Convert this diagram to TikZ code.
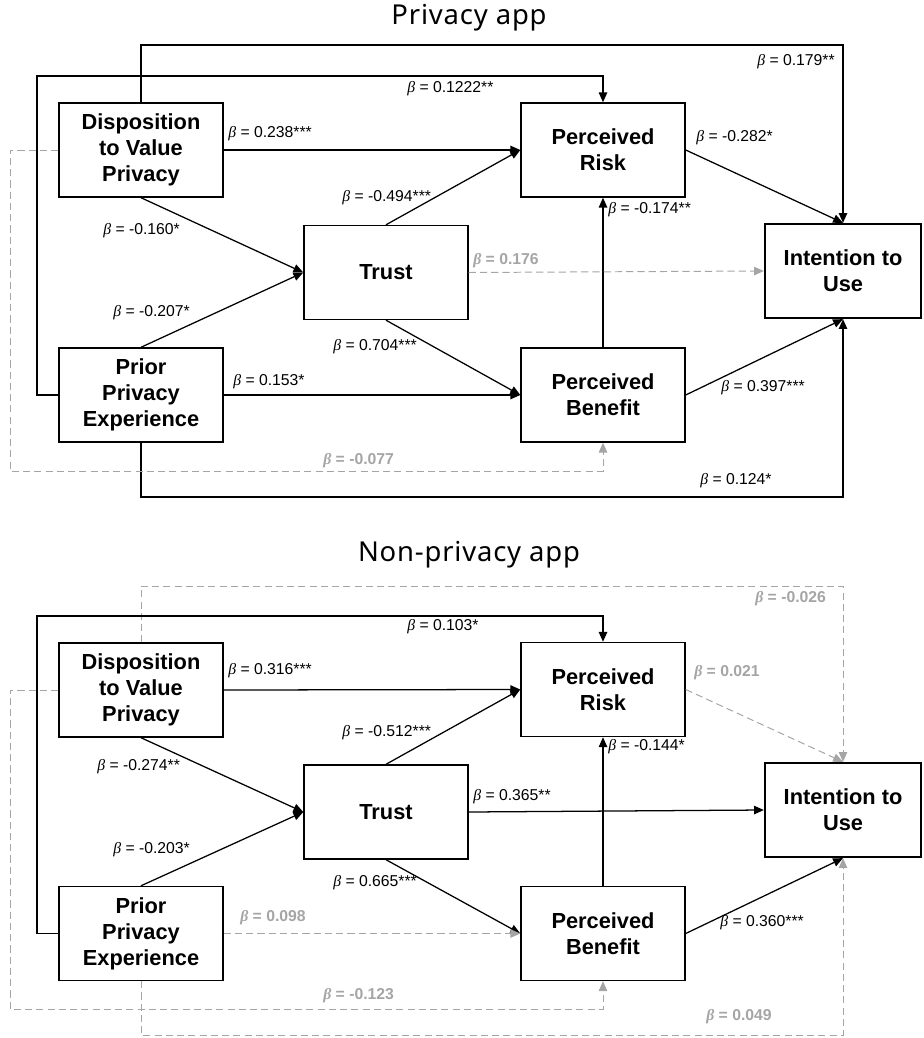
\documentclass[tikz,border=0pt]{standalone}
\usepackage{fontspec}
\setmainfont{Liberation Sans}
\newfontfamily\titlefont[LetterSpace=3]{Noto Sans}
\newfontfamily\betafont{Liberation Serif}
\usetikzlibrary{arrows.meta}
\definecolor{nsgray}{RGB}{165,165,165}
\newcommand{\bt}{{\betafont\itshape β}}

\begin{document}
\begin{tikzpicture}[x=0.025cm,y=-0.025cm]
\tikzstyle{construct} = [rectangle, draw=black, line width=1pt, minimum width=4.1cm, minimum height=2.35cm, inner sep=0pt, align=center, font=\fontsize{15.5}{18.4}\selectfont\bfseries]
\tikzstyle{outcome} = [construct, line width=1.6pt, minimum width=3.9cm]
\tikzstyle{arrow} = [-{Triangle[length=7pt,width=6pt]}, line width=0.9pt]
\tikzstyle{nsarrow} = [arrow, color=nsgray, line width=0.7pt, dash pattern=on 5pt off 3pt]
\tikzstyle{coef} = [anchor=west, inner sep=0pt, font=\fontsize{11.2}{13}\selectfont]
\tikzstyle{nscoef} = [coef, text=nsgray, font=\fontsize{11.2}{13}\selectfont\bfseries]
\tikzstyle{paneltitle} = [font=\titlefont\fontsize{19.5}{22}\selectfont]

\useasboundingbox (0,0) rectangle (923,1038);

% Privacy app
\node (title1) [paneltitle] at (469,18) {Privacy app};
\node (dvp1) [construct] at (141,150) {Disposition\\to Value\\Privacy};
\node (ppe1) [construct] at (141,395) {Prior\\Privacy\\Experience};
\node (trust1) [construct] at (386,272.5) {Trust};
\node (pr1) [construct] at (603,150) {Perceived\\Risk};
\node (pb1) [construct] at (603,395) {Perceived\\Benefit};
\node (itu1) [outcome] at (843,271) {Intention to\\Use};

\coordinate (railA1) at (843,45);
\coordinate (railB1) at (37,76);
\coordinate (railC1) at (10,471);
\coordinate (railD1) at (843,497);

\draw [arrow] (dvp1.north) |- (railA1) -- (itu1.north);
\draw [arrow] (ppe1.west) -| (railB1) -| (pr1.north);
\draw [arrow] (dvp1.east) -- (pr1.west);
\draw [arrow] (dvp1.south) -- (trust1.west);
\draw [arrow] (ppe1.north) -- (trust1.west);
\draw [arrow] (trust1.north) -- (pr1.west);
\draw [arrow] (trust1.south) -- (pb1.west);
\draw [arrow] (ppe1.east) -- (pb1.west);
\draw [arrow] (pb1.north) -- (pr1.south);
\draw [arrow] (pr1.east) -- (itu1.north);
\draw [arrow] (pb1.east) -- (itu1.south);
\draw [arrow] (ppe1.south) |- (railD1) -- (itu1.south);
\draw [nsarrow] (dvp1.west) -| (railC1) -| (pb1.south);
\draw [nsarrow] (trust1.east) -- (itu1.west);

\node (b179) [coef] at (757,62) {\bt{} = 0.179**};
\node (b1222) [coef] at (407,89) {\bt{} = 0.1222**};
\node (b238) [coef] at (228,134) {\bt{} = 0.238***};
\node (b160) [coef] at (103,231) {\bt{} = -0.160*};
\node (b207) [coef] at (113,313) {\bt{} = -0.207*};
\node (b494) [coef] at (342,198) {\bt{} = -0.494***};
\node (b704) [coef] at (333,347) {\bt{} = 0.704***};
\node (b153) [coef] at (233,382) {\bt{} = 0.153*};
\node (b174) [coef] at (608,210) {\bt{} = -0.174**};
\node (b282) [coef] at (696,138) {\bt{} = -0.282*};
\node (b397) [coef] at (721,388) {\bt{} = 0.397***};
\node (b124) [coef] at (700,481) {\bt{} = 0.124*};
\node (b077) [nscoef] at (323,461) {\bt{} = -0.077};
\node (b176) [nscoef] at (473,261) {\bt{} = 0.176};

% Non-privacy app
\node (title2) [paneltitle] at (469,555) {Non-privacy app};
\node (dvp2) [construct] at (141,690) {Disposition\\to Value\\Privacy};
\node (ppe2) [construct] at (141,933.5) {Prior\\Privacy\\Experience};
\node (trust2) [construct] at (386,812) {Trust};
\node (pr2) [construct] at (603,689.5) {Perceived\\Risk};
\node (pb2) [construct] at (603,933.5) {Perceived\\Benefit};
\node (itu2) [outcome] at (843,810) {Intention to\\Use};

\coordinate (railA2) at (843,586);
\coordinate (railB2) at (37,616);
\coordinate (railC2) at (10,1009);
\coordinate (railD2) at (843,1035);

\draw [nsarrow] (dvp2.north) |- (railA2) -- (itu2.north);
\draw [arrow] (ppe2.west) -| (railB2) -| (pr2.north);
\draw [arrow] (dvp2.east) -- (pr2.west);
\draw [arrow] (dvp2.south) -- (trust2.west);
\draw [arrow] (ppe2.north) -- (trust2.west);
\draw [arrow] (trust2.north) -- (pr2.west);
\draw [arrow] (trust2.south) -- (pb2.west);
\draw [nsarrow] (ppe2.east) -- (pb2.west);
\draw [arrow] (pb2.north) -- (pr2.south);
\draw [nsarrow] (pr2.east) -- (itu2.north);
\draw [arrow] (trust2.east) -- (itu2.west);
\draw [arrow] (pb2.east) -- (itu2.south);
\draw [nsarrow] (ppe2.south) |- (railD2) -- (itu2.south);
\draw [nsarrow] (dvp2.west) -| (railC2) -| (pb2.south);

\node (b026) [nscoef] at (755,599) {\bt{} = -0.026};
\node (b103) [coef] at (407,627) {\bt{} = 0.103*};
\node (b316) [coef] at (228,671) {\bt{} = 0.316***};
\node (b274) [coef] at (97,767) {\bt{} = -0.274**};
\node (b203) [coef] at (113,850) {\bt{} = -0.203*};
\node (b512) [coef] at (342,733) {\bt{} = -0.512***};
\node (b665) [coef] at (333,883) {\bt{} = 0.665***};
\node (b098) [nscoef] at (240,918) {\bt{} = 0.098};
\node (b144) [coef] at (608,747) {\bt{} = -0.144*};
\node (b021) [nscoef] at (694,673) {\bt{} = 0.021};
\node (b365) [coef] at (473,797) {\bt{} = 0.365**};
\node (b360) [coef] at (720,923) {\bt{} = 0.360***};
\node (b049) [nscoef] at (706,1017) {\bt{} = 0.049};
\node (b123) [nscoef] at (323,996) {\bt{} = -0.123};

\end{tikzpicture}
\end{document}
